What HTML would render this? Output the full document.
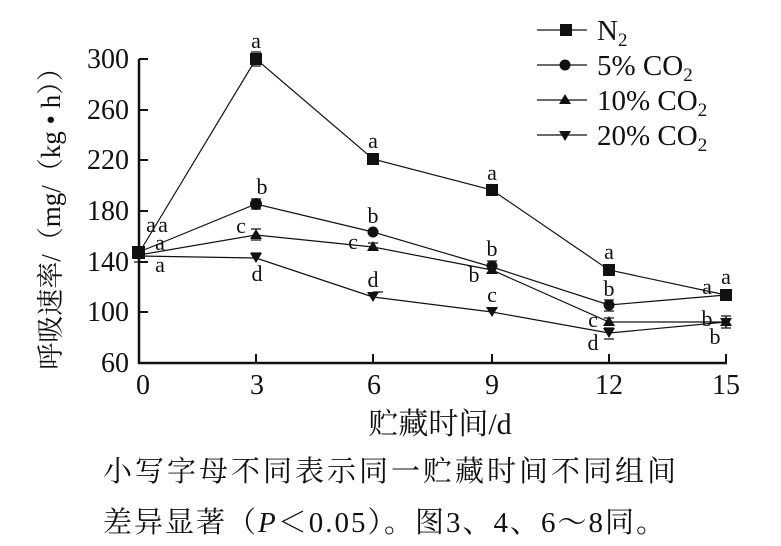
<!DOCTYPE html><html><head><meta charset="utf-8"><style>body{margin:0;background:#fff}svg{display:block}text{font-family:"Liberation Serif","Noto Serif CJK SC",serif;fill:#111}</style></head><body>
<svg width="781" height="546" viewBox="0 0 781 546">
<g stroke="#111" fill="none">
<path d="M139 59V363H727" stroke-width="2.5"/>
<path d="M139 59h9M139 110h9M139 160h9M139 211h9M139 262h9M139 312h9M256 363v-9M373 363v-9M492 363v-9M609 363v-9M726 363v-9" stroke-width="2"/>
<g stroke-width="1.2">
<polyline points="139,253 256,59 373,159 492,190 609,270 726,295"/>
<polyline points="139,252 256,204 373,232 492,267 609,305 726,295"/>
<polyline points="139,255 256,235 373,247 492,270 609,322 726,322"/>
<polyline points="139,256 256,258 373,297 492,312 609,333 726,322"/>
<path d="M537 30h50M537 65h50M537 100h50M537 135h50"/>
<path d="M251 52h10M251 66h10M368 154h10M368 164h10M487 185h10M487 195h10M604 265h10M604 275h10M721 290h10M721 300h10M251 199h10M251 209h10M487 261h10M604 300h10M604 311h10M251 229h10M251 240h10M368 243h10M487 266h10M604 318h10M251 253h10M373 292h10M487 308h10M604 328h10M604 339h10M721 316h10M721 328h10M134 248h10M134 262h10"/>
</g></g>
<g fill="#111">
<rect x="132" y="246" width="13" height="13"/>
<rect x="250" y="53" width="12" height="12"/><rect x="367" y="153" width="12" height="12"/><rect x="486" y="184" width="12" height="12"/><rect x="603" y="264" width="12" height="12"/><rect x="720" y="289" width="12" height="12"/>
<circle cx="256" cy="204" r="6"/><circle cx="373" cy="232" r="5.5"/><circle cx="492" cy="266" r="5.5"/><circle cx="609" cy="305" r="5.5"/>
<path d="M256 229l6 10h-12zM373 241l6 10h-12zM492 264l6 10h-12zM609 316l6 10h-12zM726 316l6 10h-12z"/>
<path d="M256 263l6-10h-12zM373 302l6-10h-12zM492 317l6-10h-12zM609 338l6-10h-12zM726 328l6-10h-12z"/>
<rect x="560" y="24" width="12" height="12"/><circle cx="565" cy="65" r="5.5"/><path d="M565 94l6 10h-12zM565 141l6-10h-12z"/>
</g>
<g font-size="29"><text x="597" y="40">N<tspan font-size="19" dy="6">2</tspan></text>
<text x="597" y="75">5% CO<tspan font-size="19" dy="6">2</tspan></text>
<text x="597" y="110">10% CO<tspan font-size="19" dy="6">2</tspan></text>
<text x="597" y="145">20% CO<tspan font-size="19" dy="6">2</tspan></text></g>
<g font-size="28" text-anchor="end"><text x="129" y="68">300</text><text x="129" y="119">260</text><text x="129" y="169">220</text><text x="129" y="220">180</text><text x="129" y="271">140</text><text x="129" y="321">100</text><text x="129" y="372">60</text></g>
<g font-size="28" text-anchor="middle"><text x="143" y="394">0</text><text x="257" y="394">3</text><text x="374" y="394">6</text><text x="492" y="394">9</text><text x="609" y="394">12</text><text x="726" y="394">15</text></g>
<text x="440" y="434" font-size="30" text-anchor="middle">贮藏时间/d</text>
<text transform="translate(60,212) rotate(-90)" font-size="27" text-anchor="middle">呼吸速率/（mg/（kg • h））</text>
<g font-size="22" text-anchor="middle">
<text x="151" y="232">a</text><text x="163" y="232">a</text><text x="160" y="250">a</text><text x="160" y="272">a</text>
<text x="256" y="48">a</text><text x="262" y="194">b</text><text x="241" y="233">c</text><text x="257" y="281">d</text>
<text x="373" y="148">a</text><text x="373" y="223">b</text><text x="353" y="249">c</text><text x="373" y="287">d</text>
<text x="492" y="180">a</text><text x="492" y="256">b</text><text x="474" y="282">b</text><text x="492" y="302">c</text>
<text x="609" y="259">a</text><text x="609" y="296">b</text><text x="593" y="327">c</text><text x="593" y="350">d</text>
<text x="707" y="294">a</text><text x="726" y="284">a</text><text x="707" y="326">b</text><text x="715" y="344">b</text>
</g>
<g font-size="29"><text x="103" y="481" letter-spacing="3">小写字母不同表示同一贮藏时间不同组间</text>
<text x="103" y="532" letter-spacing="2">差异显著（<tspan font-style="italic">P</tspan>＜0.05）。图3、4、6～8同。</text></g>
</svg></body></html>
